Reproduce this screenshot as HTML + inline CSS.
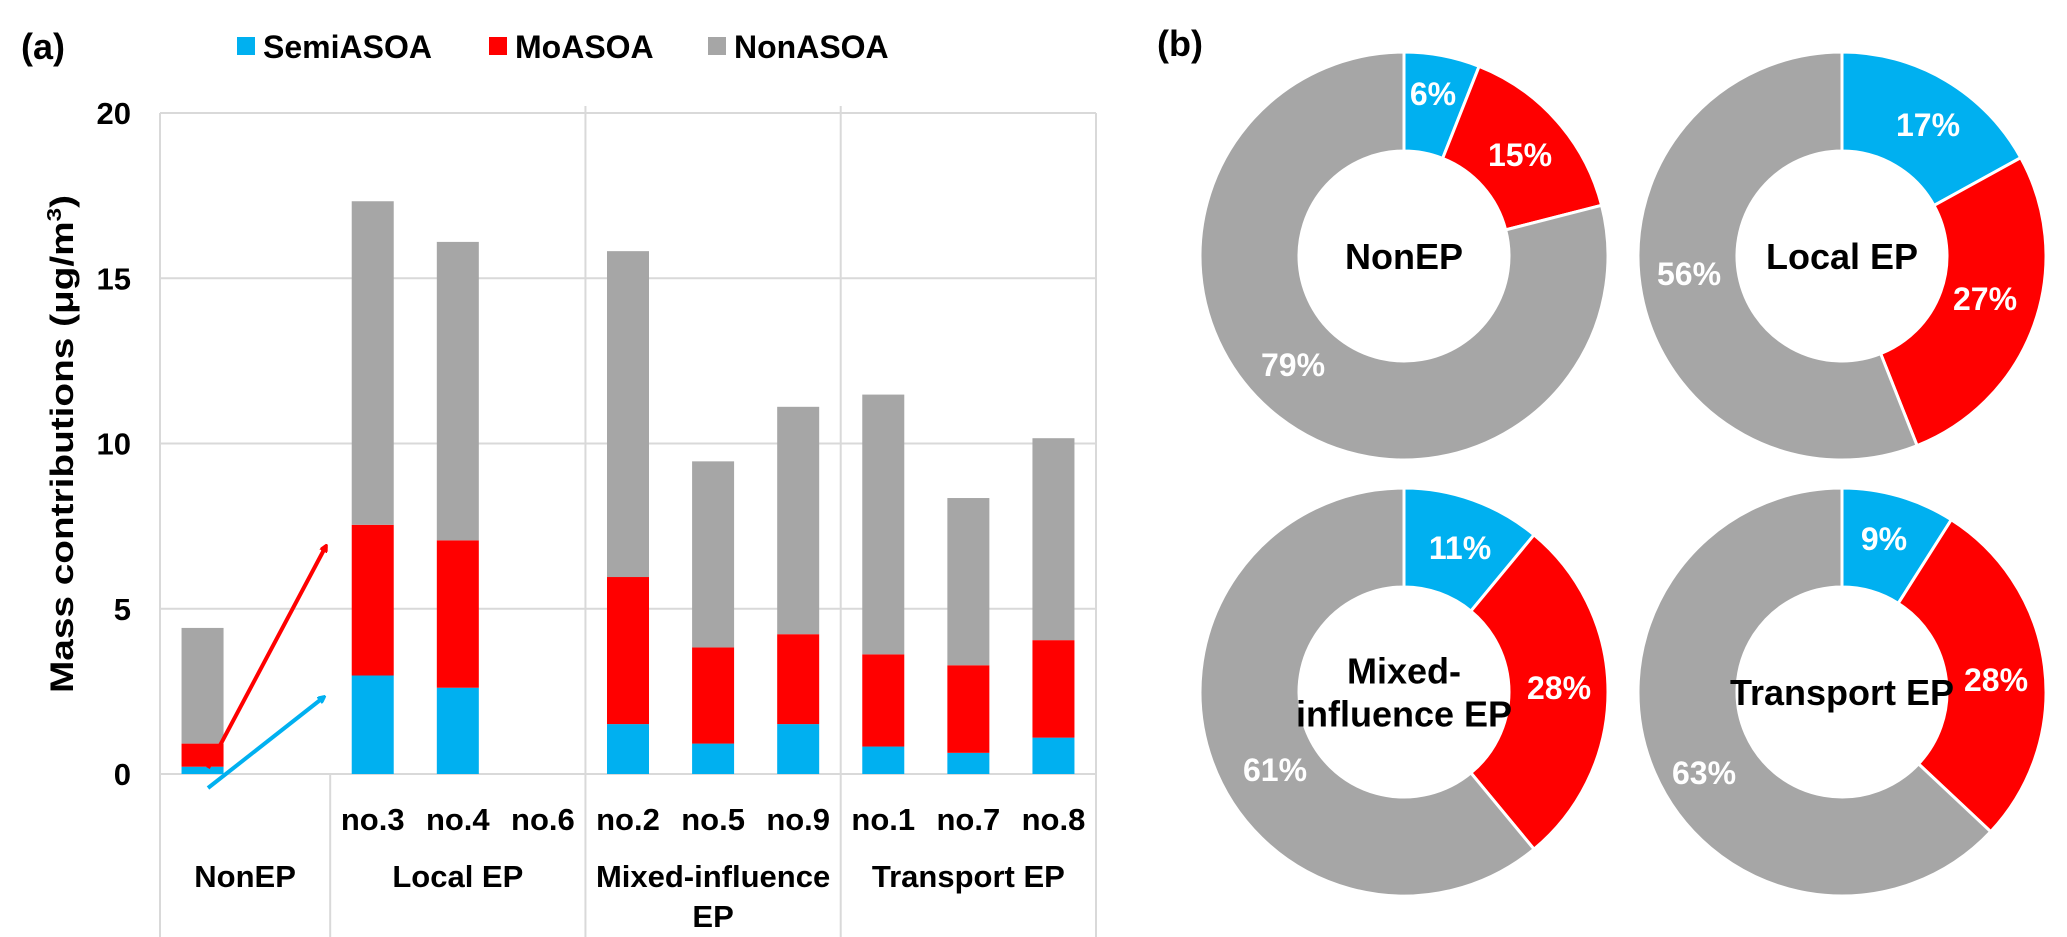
<!DOCTYPE html>
<html><head><meta charset="utf-8"><style>
html,body{margin:0;padding:0;background:#fff;}
svg{display:block;font-family:"Liberation Sans",Arial,sans-serif;font-weight:bold;}
</style></head><body>
<svg id="fig" width="2067" height="937" viewBox="0 0 2067 937" xmlns="http://www.w3.org/2000/svg">
<g id="barChart"></g>
<g id="donuts"></g>
</svg>
<script>
// ---- Panel (a) data ----
const categories = ["NonEP","","no.3","no.4","no.6","no.2","no.5","no.9","no.1","no.7","no.8"];
const semiValues = [0.22,0,2.98,2.61,0,1.51,0.92,1.51,0.83,0.64,1.10];
const moValues   = [0.70,0,4.56,4.46,0,4.45,2.91,2.72,2.79,2.65,2.95];
const nonValues  = [3.50,0,9.79,9.03,0,9.86,5.63,6.88,7.86,5.06,6.11];
const yTicks = [0,5,10,15,20];
const groups = [{label:["NonEP"],start:0,end:2},{label:["Local EP"],start:2,end:5},{label:["Mixed-influence","EP"],start:5,end:8},{label:["Transport EP"],start:8,end:11}];
// ---- Panel (b) data ----
const donutTitles = [["NonEP"],["Local EP"],["Mixed-","influence EP"],["Transport EP"]];
const donutSemi = [6,17,11,9];
const donutMo = [15,27,28,28];
const donutNon = [79,56,61,63];

const NS="http://www.w3.org/2000/svg";
const C={semi:"#00b0f0",mo:"#ff0000",non:"#a6a6a6"};
function mk(tag,attrs,parent,text){const e=document.createElementNS(NS,tag);for(const k in attrs)e.setAttribute(k,attrs[k]);if(text!==undefined)e.textContent=text;parent.appendChild(e);return e;}

const A=document.getElementById('barChart');
const L=160,R=1096,T=113,B=774,BOT=937;
const slot=(R-L)/categories.length;
const yS=v=>B-(v/20)*(B-T);
const xC=i=>L+slot*(i+0.5);
const bw=42;

// panel label
let t=mk('text',{x:21,y:59,'font-size':36},A,'(a)');


// legend
const leg=[["SemiASOA",C.semi,237],["MoASOA",C.mo,489],["NonASOA",C.non,708]];
leg.forEach(l=>{
  const g=mk('g',{},A);
  
  
  mk('rect',{x:l[2],y:37,width:18,height:18,fill:l[1]},g);
  mk('text',{x:l[2]+26,y:58,'font-size':32},g,l[0]);
});
// grid
yTicks.forEach(v=>{
  const gl=mk('line',{x1:L,x2:R,y1:yS(v),y2:yS(v),stroke:'#d9d9d9','stroke-width':2},A);
  
  
  const tl=mk('text',{x:131,y:yS(v)+11,'font-size':31,'text-anchor':'end'},A,String(v));
  
  
});
// frame lines
mk('line',{x1:L,x2:L,y1:T,y2:BOT,stroke:'#d9d9d9','stroke-width':2},A);
mk('line',{x1:R,x2:R,y1:T,y2:BOT,stroke:'#d9d9d9','stroke-width':2},A);
groups.forEach((g,gi)=>{
  if(gi===0)return;
  const x=L+slot*g.start;
  const full=gi>=2;
  const ln=mk('line',{x1:x,x2:x,y1:full?106:B,y2:BOT,stroke:'#d9d9d9','stroke-width':2},A);
  
  
  const cx=(L+slot*g.start+L+slot*g.end)/2;
});
groups.forEach(g=>{
  const cx=L+slot*(g.start+g.end)/2;
  g.label.forEach((s,k)=>{
    const gt=mk('text',{x:cx,y:887+k*40,'font-size':31,'text-anchor':'middle'},A,s);
    
    
  });
});
// bars
categories.forEach((c,i)=>{
  const g=mk('g',{},A);
  
  
  const x=xC(i)-bw/2;
  const s=semiValues[i],m=moValues[i],n=nonValues[i];
  if(s>0)mk('rect',{x:x,y:yS(s),width:bw,height:yS(0)-yS(s),fill:C.semi},g);
  if(m>0)mk('rect',{x:x,y:yS(s+m),width:bw,height:yS(s)-yS(s+m),fill:C.mo},g);
  if(n>0)mk('rect',{x:x,y:yS(s+m+n),width:bw,height:yS(s+m)-yS(s+m+n),fill:C.non},g);
  if(c && i>0){
    const ct=mk('text',{x:xC(i),y:830,'font-size':31,'text-anchor':'middle'},A,c);
    
    
  }
});
// y axis title
const yt=mk('text',{transform:'translate(73,444) rotate(-90)','font-size':32,'text-anchor':'middle',textLength:498,lengthAdjust:'spacingAndGlyphs'},A);


yt.textContent='Mass contributions (μg/m';
mk('tspan',{'font-size':20,dy:-12},yt,'3');
mk('tspan',{dy:12},yt,')');
// arrows
const defs=mk('defs',{},A);
[['ar',C.mo],['ab',C.semi]].forEach(a=>{
  const m=mk('marker',{id:a[0],markerWidth:8,markerHeight:8,refX:6,refY:4,orient:'auto',markerUnits:'userSpaceOnUse'},defs);
  mk('path',{d:'M0,0 L8,4 L0,8 Z',fill:a[1],transform:'scale(2) translate(-3,-2)'},m);
});
const ra=mk('line',{x1:208,y1:768,x2:326,y2:546,stroke:C.mo,'stroke-width':4,'marker-end':'url(#ar)'},A);


const ba=mk('line',{x1:208,y1:788,x2:324,y2:697,stroke:C.semi,'stroke-width':4,'marker-end':'url(#ab)'},A);



// ---- Panel (b) ----
const D=document.getElementById('donuts');
let tb=mk('text',{x:1157,y:56,'font-size':36},D,'(b)');


const centers=[[1404,256],[1842,256],[1404,692],[1842,692]];
const Ro=204,Ri=105;
function pt(cx,cy,r,a){return [cx+r*Math.sin(a),cy-r*Math.cos(a)];}
function arc(cx,cy,a0,a1){
  const la=(a1-a0)>Math.PI?1:0;
  const p0=pt(cx,cy,Ro,a0),p1=pt(cx,cy,Ro,a1),p2=pt(cx,cy,Ri,a1),p3=pt(cx,cy,Ri,a0);
  return `M${p0[0]},${p0[1]} A${Ro},${Ro} 0 ${la} 1 ${p1[0]},${p1[1]} L${p2[0]},${p2[1]} A${Ri},${Ri} 0 ${la} 0 ${p3[0]},${p3[1]} Z`;
}
const labelOffsets=[
  [[29,-162],[116,-101],[-111,109]],
  [[86,-131],[143,43],[-153,18]],
  [[56,-144],[155,-4],[-129,78]],
  [[42,-153],[154,-12],[-138,81]]
];
const segNames=['semi','mo','non'];
centers.forEach((c,d)=>{
  const g=mk('g',{},D);
  
  
  const vals=[donutSemi[d],donutMo[d],donutNon[d]];
  const tot=vals[0]+vals[1]+vals[2];
  let a=0;
  vals.forEach((v,k)=>{
    const a1=a+v/tot*2*Math.PI;
    const p=mk('path',{d:arc(c[0],c[1],a,a1),fill:C[segNames[k]],stroke:'#fff','stroke-width':3},g);
    
    
    a=a1;
  });
  vals.forEach((v,k)=>{
    const o=labelOffsets[d][k];
    const lt=mk('text',{x:c[0]+o[0],y:c[1]+o[1]+11,'font-size':32,'text-anchor':'middle',fill:'#fff'},g,v+'%');
    
    
  });
  const lines=donutTitles[d];
  lines.forEach((s,k)=>{
    const y=c[1]+13+(k-(lines.length-1)/2)*43;
    const tt=mk('text',{x:c[0],y:y,'font-size':36,'text-anchor':'middle',fill:'#000'},g,s);
    
    
  });
});
</script>
</body></html>
